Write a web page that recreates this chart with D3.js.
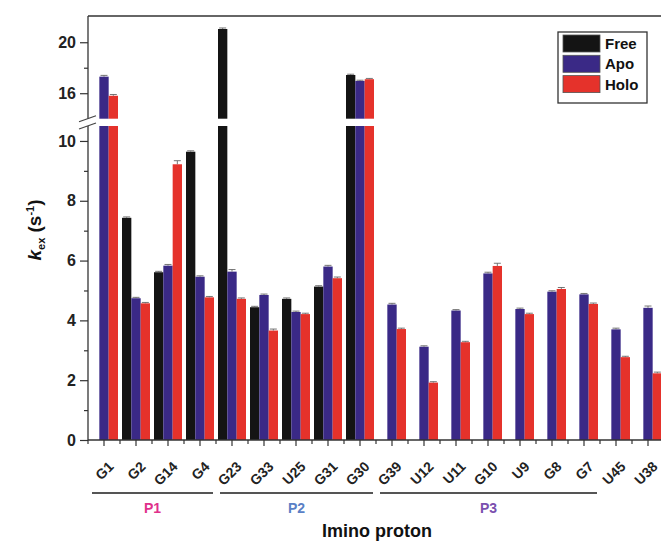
<!DOCTYPE html>
<html>
<head>
<meta charset="utf-8">
<script src="https://cdn.jsdelivr.net/npm/d3@7"></script>
<style>
  html, body { margin: 0; padding: 0; background: #fff; }
  svg { display: block; font-family: "Liberation Sans", Arial, sans-serif; }
</style>
</head>
<body>
<svg id="chart" width="661" height="541"></svg>
<script>
// Imino proton exchange rates (s^-1) for the free, apo and holo states
const categories = ["G1","G2","G14","G4","G23","G33","U25","G31","G30","G39","U12","U11","G10","U9","G8","G7","U45","U38"];
const freeVals = [null, 7.43, 5.61, 9.64, 21.04, 4.44, 4.72, 5.13, 17.43, null, null, null, null, null, null, null, null, null];
const apoVals  = [17.3, 4.74, 5.83, 5.46, 5.63, 4.85, 4.28, 5.80, 16.96, 4.53, 3.12, 4.33, 5.57, 4.38, 4.96, 4.87, 3.70, 4.42];
const holoVals = [15.8, 4.57, 9.22, 4.77, 4.72, 3.66, 4.21, 5.41, 17.10, 3.71, 1.92, 3.27, 5.82, 4.21, 5.05, 4.55, 2.77, 2.23];
const freeErr  = [0, 0.03, 0.03, 0.03, 0.08, 0.03, 0.03, 0.03, 0.06, 0, 0, 0, 0, 0, 0, 0, 0, 0];
const apoErr   = [0.10, 0.03, 0.04, 0.03, 0.07, 0.03, 0.03, 0.04, 0.06, 0.04, 0.03, 0.03, 0.04, 0.03, 0.03, 0.03, 0.04, 0.06];
const holoErr  = [0.10, 0.03, 0.12, 0.03, 0.03, 0.05, 0.03, 0.04, 0.06, 0.03, 0.03, 0.03, 0.09, 0.03, 0.05, 0.03, 0.03, 0.04];
const seriesNames = ["Free", "Apo", "Holo"];
const seriesColors = ["#141414", "#3a2986", "#e5322b"];
const lowTicks = [0, 2, 4, 6, 8, 10];
const lowMinor = [1, 3, 5, 7, 9];
const highTicks = [16, 20];
const highMinor = [18];
const regions = [
  { name: "P1", from: "G1",  to: "G4",  color: "#e0308b" },
  { name: "P2", from: "G23", to: "G30", color: "#5a80c6" },
  { name: "P3", from: "G39", to: "G7",  color: "#7a4fae" }
];

const svg = d3.select("#chart");
const plotLeft = 88, plotTop = 16, plotBottom = 440, plotRight = 661;

// broken y axis: a lower segment 0–10.5 and an upper segment 14–22
const lowMax = 10.5, highMin = 14, highMax = 22.06;
const yLow = d3.scaleLinear().domain([0, lowMax]).range([plotBottom, 126]);
const yHigh = d3.scaleLinear().domain([highMin, highMax]).range([118.7, plotTop]);

const x = d3.scaleBand().domain(categories).range([plotLeft, 664]).paddingInner(0.125).paddingOuter(0.0625);
const xs = d3.scaleBand().domain(seriesNames).range([0, x.bandwidth()]);

const series = [
  { name: "Free", vals: freeVals, errs: freeErr },
  { name: "Apo",  vals: apoVals,  errs: apoErr },
  { name: "Holo", vals: holoVals, errs: holoErr }
];
const color = d3.scaleOrdinal().domain(seriesNames).range(seriesColors);

function yOf(v) { return v > lowMax ? yHigh(v) : yLow(v); }

const bars = svg.append("g");
series.forEach(s => {
  s.vals.forEach((v, i) => {
    if (v == null) return;
    const bx = x(categories[i]) + xs(s.name);
    const bw = xs.bandwidth();
    const g = bars.append("g");
    if (v > lowMax) {
      g.append("rect").attr("x", bx).attr("width", bw)
        .attr("y", yLow(lowMax)).attr("height", plotBottom - yLow(lowMax)).attr("fill", color(s.name));
      g.append("rect").attr("x", bx).attr("width", bw)
        .attr("y", yHigh(v)).attr("height", yHigh(highMin) - yHigh(v)).attr("fill", color(s.name));
    } else {
      g.append("rect").attr("x", bx).attr("width", bw)
        .attr("y", yLow(v)).attr("height", plotBottom - yLow(v)).attr("fill", color(s.name));
    }
    // error bar (upper half)
    const e = s.errs[i];
    if (e > 0) {
      const y0 = yOf(v), y1 = yOf(v + e);
      const cx = bx + bw / 2;
      g.append("line").attr("x1", cx).attr("x2", cx).attr("y1", y0).attr("y2", y1)
        .attr("stroke", "#666").attr("stroke-width", 0.9);
      g.append("line").attr("x1", cx - 3.5).attr("x2", cx + 3.5).attr("y1", y1).attr("y2", y1)
        .attr("stroke", "#666").attr("stroke-width", 0.9);
    }
  });
});

// frame: top line
svg.append("line").attr("x1", plotLeft).attr("x2", plotRight).attr("y1", plotTop).attr("y2", plotTop)
  .attr("stroke", "#333").attr("stroke-width", 1.3);

// y axis (lower segment)
const axLow = svg.append("g").attr("transform", `translate(${plotLeft},0)`)
  .call(d3.axisLeft(yLow).tickValues(lowTicks).tickSize(8).tickFormat(d3.format("d")));
const axLowMinor = svg.append("g").attr("transform", `translate(${plotLeft},0)`)
  .call(d3.axisLeft(yLow).tickValues(lowMinor).tickSize(4).tickFormat(""));
// y axis (upper segment)
const axHigh = svg.append("g").attr("transform", `translate(${plotLeft},0)`)
  .call(d3.axisLeft(yHigh).tickValues(highTicks).tickSize(8).tickFormat(d3.format("d")));
const axHighMinor = svg.append("g").attr("transform", `translate(${plotLeft},0)`)
  .call(d3.axisLeft(yHigh).tickValues(highMinor).tickSize(4).tickFormat(""));

[axLow, axLowMinor, axHigh, axHighMinor].forEach(a => {
  a.select(".domain").remove();
  a.selectAll("line").attr("stroke", "#333").attr("stroke-width", 1.2);
  a.selectAll("text").attr("font-size", 16).attr("font-weight", "bold")
    .attr("fill", "#222").attr("font-family", "Liberation Sans, Arial, sans-serif").attr("x", -12);
});
// y axis spine with break gap
svg.append("line").attr("x1", plotLeft).attr("x2", plotLeft).attr("y1", plotTop).attr("y2", yHigh(highMin))
  .attr("stroke", "#333").attr("stroke-width", 1.3);
svg.append("line").attr("x1", plotLeft).attr("x2", plotLeft).attr("y1", yLow(lowMax)).attr("y2", plotBottom)
  .attr("stroke", "#333").attr("stroke-width", 1.3);
// break marks
[yHigh(highMin), yLow(lowMax)].forEach(yb => {
  svg.append("line").attr("x1", plotLeft - 9).attr("x2", plotLeft + 8).attr("y1", yb + 3).attr("y2", yb - 3)
    .attr("stroke", "#444").attr("stroke-width", 1.2);
});

// x axis
const xAxis = svg.append("g").attr("transform", `translate(0,${plotBottom})`)
  .call(d3.axisBottom(x).tickSize(6).tickFormat(""));
xAxis.select(".domain").remove();
xAxis.selectAll("line").attr("stroke", "#333").attr("stroke-width", 1.2);
svg.append("line").attr("x1", plotLeft).attr("x2", plotRight).attr("y1", plotBottom).attr("y2", plotBottom)
  .attr("stroke", "#333").attr("stroke-width", 1.3);
// minor ticks between categories
const minorX = d3.range(categories.length + 1).map(i => plotLeft + i * x.step());
svg.append("g").selectAll("line").data(minorX).join("line")
  .attr("x1", d => d).attr("x2", d => d).attr("y1", plotBottom).attr("y2", plotBottom + 4)
  .attr("stroke", "#333").attr("stroke-width", 1.2);

// rotated category labels
svg.append("g").selectAll("text").data(categories).join("text")
  .attr("transform", d => `translate(${x(d) + x.bandwidth() / 2 + 7},${plotBottom + 24}) rotate(-45)`)
  .attr("text-anchor", "end").attr("dy", "0.35em")
  .attr("font-size", 14).attr("font-weight", "bold").attr("fill", "#222")
  .text(d => d);

// structural region brackets
regions.forEach(r => {
  const x1 = x(r.from) + 2, x2 = x(r.to) + x.bandwidth() - 1;
  svg.append("line").attr("x1", x1).attr("x2", x2).attr("y1", 493).attr("y2", 493)
    .attr("stroke", "#555").attr("stroke-width", 2);
  svg.append("text").attr("x", (x1 + x2) / 2).attr("y", 513).attr("text-anchor", "middle")
    .attr("font-size", 14).attr("font-weight", "bold").attr("fill", r.color).text(r.name);
});

// axis titles
svg.append("text").attr("x", 377).attr("y", 537).attr("text-anchor", "middle")
  .attr("font-size", 18).attr("font-weight", "bold").attr("fill", "#111").text("Imino proton");

const yTitle = svg.append("text").attr("transform", "translate(41,230) rotate(-90)")
  .attr("text-anchor", "middle").attr("font-size", 19).attr("font-weight", "bold").attr("fill", "#111");
yTitle.append("tspan").attr("font-style", "italic").text("k");
yTitle.append("tspan").attr("font-size", 11).attr("dy", 4).text("ex");
yTitle.append("tspan").attr("dy", -4).text(" (s");
yTitle.append("tspan").attr("font-size", 11).attr("dy", -7).text("-1");
yTitle.append("tspan").attr("dy", 7).text(")");

// legend
const legend = svg.append("g");
legend.append("rect").attr("x", 558).attr("y", 32).attr("width", 89).attr("height", 71)
  .attr("fill", "#fff").attr("stroke", "#333").attr("stroke-width", 1.3);
seriesNames.forEach((n, i) => {
  const yy = 35 + i * 20.3;
  legend.append("rect").attr("x", 563).attr("y", yy).attr("width", 37).attr("height", 17)
    .attr("fill", color(n)).attr("stroke", "#555").attr("stroke-width", 0.8);
  legend.append("text").attr("x", 605).attr("y", yy + 14).attr("font-size", 15)
    .attr("font-weight", "bold").attr("fill", "#111").text(n);
});
</script>
</body>
</html>
